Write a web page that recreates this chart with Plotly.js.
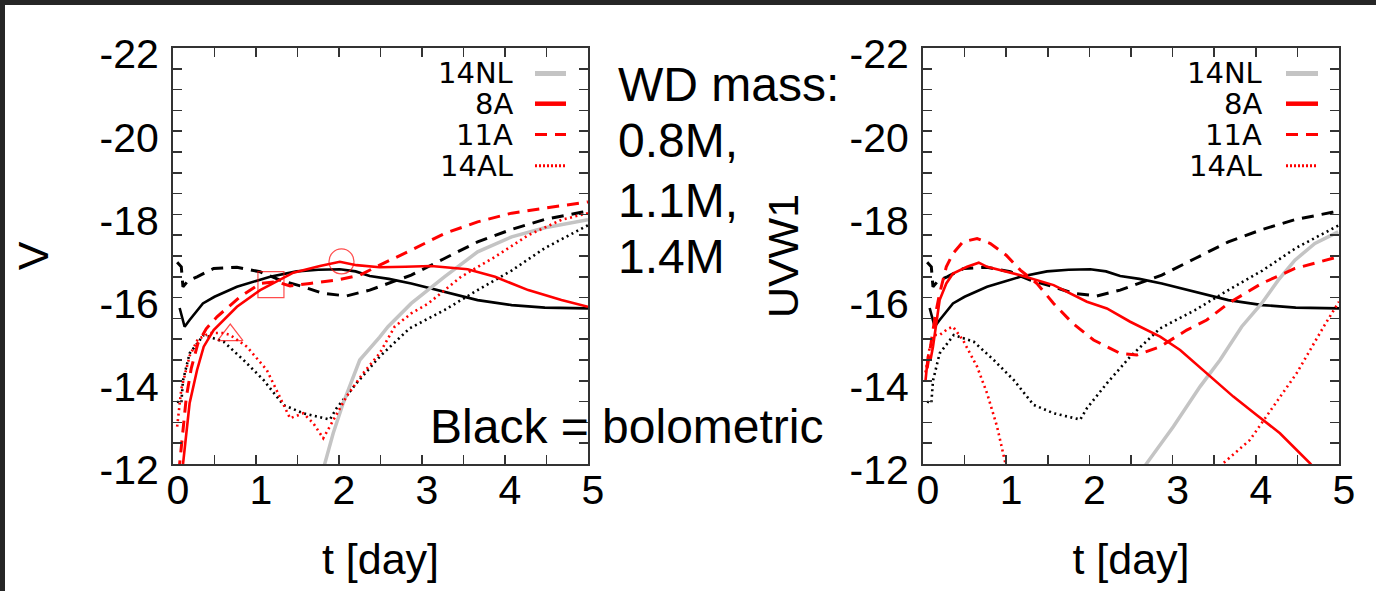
<!DOCTYPE html>
<html>
<head>
<meta charset="utf-8">
<script src="https://cdn.plot.ly/plotly-3.0.1.min.js"></script>
<style>html,body{margin:0;padding:0;background:#fff;}#chart{width:1376px;height:591px;}</style>
</head>
<body>
<div id="chart"></div>
<script>
// ---------- DATA (t in days, absolute magnitudes) ----------
// Bolometric (black) curves - identical in both panels
const bolSolidT = [0.08, 0.1, 0.14, 0.2, 0.36, 0.5, 0.77, 1.0, 1.17, 1.49, 1.75, 2.01, 2.2, 2.37, 2.6, 2.87, 3.27, 3.67, 4.08, 4.48, 5.0];
const bolSolidM = [-15.75, -15.62, -15.3, -15.46, -15.86, -16.02, -16.26, -16.4, -16.5, -16.63, -16.67, -16.68, -16.63, -16.52, -16.45, -16.34, -16.14, -15.94, -15.82, -15.76, -15.74];

const bolDashT = [0.05, 0.1, 0.12, 0.18, 0.29, 0.49, 0.77, 1.05, 1.29, 1.57, 1.81, 2.09, 2.37, 2.6, 2.87, 3.27, 3.67, 4.08, 4.48, 4.92, 5.0];
const bolDashM = [-16.85, -16.74, -16.26, -16.4, -16.5, -16.7, -16.73, -16.62, -16.42, -16.26, -16.1, -16.04, -16.18, -16.34, -16.54, -16.94, -17.34, -17.64, -17.88, -18.05, -18.08];

const bolDotT = [0.05, 0.1, 0.12, 0.2, 0.37, 0.61, 0.85, 1.09, 1.33, 1.57, 1.89, 1.97, 2.21, 2.49, 2.85, 3.27, 3.67, 4.08, 4.48, 5.0];
const bolDotM = [-13.5, -13.46, -14.0, -14.66, -15.1, -14.94, -14.5, -14.02, -13.42, -13.22, -13.07, -13.34, -13.94, -14.58, -15.26, -15.7, -16.18, -16.65, -17.19, -17.74];

// V band
const v14NLT = [1.8, 1.83, 1.93, 2.05, 2.25, 2.49, 2.59, 2.87, 3.27, 3.67, 4.08, 4.48, 5.0];
const v14NLM = [-11.8, -12.0, -12.74, -13.46, -14.5, -15.05, -15.3, -15.86, -16.5, -17.1, -17.46, -17.68, -17.87];

const v8AT = [0.11, 0.12, 0.165, 0.2, 0.29, 0.37, 0.49, 0.77, 1.05, 1.29, 1.45, 1.77, 2.01, 2.21, 2.49, 2.8, 3.11, 3.55, 3.88, 4.28, 4.68, 5.0];
const v8AM = [-11.8, -12.0, -12.82, -13.46, -14.26, -14.82, -15.22, -15.78, -16.18, -16.42, -16.6, -16.76, -16.86, -16.78, -16.73, -16.74, -16.76, -16.68, -16.5, -16.18, -15.94, -15.78];

const v11AT = [0.07, 0.08, 0.12, 0.16, 0.22, 0.3, 0.4, 0.53, 0.81, 1.05, 1.25, 1.41, 1.65, 1.97, 2.25, 2.49, 2.87, 3.27, 3.67, 4.08, 4.48, 4.96, 5.0];
const v11AM = [-11.8, -12.0, -12.9, -13.6, -14.3, -14.9, -15.25, -15.54, -16.02, -16.34, -16.38, -16.28, -16.34, -16.42, -16.54, -16.78, -17.14, -17.54, -17.82, -18.03, -18.15, -18.28, -18.3];

const v14ALT = [0.05, 0.1, 0.2, 0.3, 0.45, 0.6, 0.69, 0.89, 1.13, 1.29, 1.41, 1.57, 1.69, 1.81, 1.93, 2.09, 2.29, 2.49, 2.67, 2.87, 3.07, 3.47, 3.88, 4.28, 4.68, 5.0];
const v14ALM = [-12.9, -13.8, -14.6, -15.0, -15.15, -15.15, -15.1, -14.82, -14.26, -13.62, -13.1, -13.22, -12.98, -12.62, -13.06, -13.62, -14.18, -14.66, -15.3, -15.62, -15.85, -16.5, -16.98, -17.5, -17.87, -18.03];

// UVW1 band
const u14NLT = [2.65, 2.69, 3.01, 3.33, 3.57, 3.83, 4.07, 4.27, 4.47, 4.71, 4.99];
const u14NLM = [-11.9, -12.02, -12.9, -13.86, -14.5, -15.3, -15.86, -16.42, -16.9, -17.3, -17.58];

const u8AT = [0.03, 0.06, 0.09, 0.12, 0.2, 0.28, 0.36, 0.53, 0.67, 0.77, 1.17, 1.57, 1.97, 2.21, 2.49, 2.85, 3.09, 3.41, 3.73, 4.01, 4.29, 4.65, 4.7];
const u8AM = [-14.0, -14.6, -14.5, -14.82, -15.94, -16.34, -16.58, -16.74, -16.84, -16.74, -16.54, -16.3, -15.9, -15.74, -15.42, -15.06, -14.74, -14.18, -13.62, -13.18, -12.74, -12.02, -11.9];

const u11AT = [0.05, 0.1, 0.15, 0.2, 0.28, 0.36, 0.48, 0.65, 0.81, 1.0, 1.17, 1.37, 1.57, 1.8, 2.05, 2.25, 2.37, 2.57, 2.85, 3.17, 3.41, 3.67, 4.07, 4.47, 4.99];
const u11AM = [-14.3, -15.0, -15.6, -16.1, -16.74, -17.06, -17.34, -17.42, -17.3, -17.02, -16.66, -16.34, -15.86, -15.38, -14.98, -14.78, -14.66, -14.62, -14.82, -15.22, -15.46, -15.86, -16.34, -16.7, -16.98];

const u14ALT = [0.03, 0.08, 0.15, 0.2, 0.3, 0.36, 0.48, 0.65, 0.77, 0.89, 0.99, 1.02, null, 3.55, 3.61, 3.93, 4.21, 4.49, 4.83, 5.0];
const u14ALM = [-14.2, -14.8, -15.1, -15.1, -15.25, -15.3, -14.98, -14.34, -13.7, -12.9, -12.02, -11.8, null, -11.8, -12.02, -12.58, -13.38, -14.18, -15.35, -15.9];

// special points on the V curves
const markT = [1.18, 2.03, 0.69];
const markM = [-16.31, -16.87, -15.1];

// axis ticks
const xTickVals = [0, 0.5, 1, 1.5, 2, 2.5, 3, 3.5, 4, 4.5, 5];
const xTickText = ['0', '', '1', '', '2', '', '3', '', '4', '', '5'];
const yTickVals = [-22, -21.5, -21, -20.5, -20, -19.5, -19, -18.5, -18, -17.5, -17, -16.5, -16, -15.5, -15, -14.5, -14, -13.5, -13, -12.5, -12];
const yTickText = ['-22', '', '', '', '-20', '', '', '', '-18', '', '', '', '-16', '', '', '', '-14', '', '', '', '-12'];

const legendNames = ['14NL', '8A', '11A', '14AL'];
const textLines = ['WD mass:', '0.8M,', '1.1M,', '1.4M'];
const noteText = 'Black = bolometric';

// ---------- STYLE ----------
const RED = '#ff0000', BLACK = '#000000', GRAY = '#c4c4c4';
const DASH = '12px,8px', DOT = '2px,3.5px';
const W = 1376, H = 591;
const px = v => v / W, py = v => 1 - v / H;

function tr(x, y, color, dash, width, ax) {
  return {x: x, y: y, type: 'scatter', mode: 'lines', xaxis: 'x' + ax, yaxis: 'y' + ax,
    line: {color: color, dash: dash, width: width}, showlegend: false, hoverinfo: 'skip', connectgaps: false};
}

const traces = [];
['', '2'].forEach(ax => {
  traces.push(tr(bolSolidT, bolSolidM, BLACK, 'solid', 2.6, ax));
  traces.push(tr(bolDashT, bolDashM, BLACK, DASH, 3, ax));
  traces.push(tr(bolDotT, bolDotM, BLACK, DOT, 2.6, ax));
});
traces.push(tr(v14NLT, v14NLM, GRAY, 'solid', 3.5, ''));
traces.push(tr(v14ALT, v14ALM, RED, DOT, 2.6, ''));
traces.push(tr(v11AT, v11AM, RED, DASH, 3, ''));
traces.push(tr(v8AT, v8AM, RED, 'solid', 2.6, ''));
traces.push(tr(u14NLT, u14NLM, GRAY, 'solid', 3.5, '2'));
traces.push(tr(u14ALT, u14ALM, RED, DOT, 2.6, '2'));
traces.push(tr(u11AT, u11AM, RED, DASH, 3, '2'));
traces.push(tr(u8AT, u8AM, RED, 'solid', 2.6, '2'));
traces.push({x: markT, y: markM, type: 'scatter', mode: 'markers', xaxis: 'x', yaxis: 'y', showlegend: false, hoverinfo: 'skip',
  marker: {symbol: ['square-open', 'circle-open', 'triangle-up-open'], size: [26, 25, 22], color: RED, line: {color: RED, width: 1.2}}});

const FONT = 'Liberation Sans, Arial, sans-serif';
function xax(domain) {
  return {domain: domain, range: [0, 5], tickmode: 'array', tickvals: xTickVals, ticktext: xTickText,
    ticks: 'inside', ticklen: 9, tickwidth: 1.5, tickcolor: '#333', showline: true, linecolor: '#333', linewidth: 2,
    mirror: 'ticks', showgrid: false, zeroline: false, fixedrange: true,
    tickfont: {family: FONT, size: 41, color: '#000'}, ticklabelshift: 5, ticklabelstandoff: -11,
    title: {text: 't [day]', font: {family: FONT, size: 43, color: '#000'}, standoff: 32}};
}
function yax(domain, anchor, title) {
  return {domain: domain, anchor: anchor, range: [-12, -22], tickmode: 'array', tickvals: yTickVals, ticktext: yTickText,
    ticks: 'inside', ticklen: 9, tickwidth: 1.5, tickcolor: '#333', showline: true, linecolor: '#333', linewidth: 2,
    mirror: 'ticks', showgrid: false, zeroline: false, fixedrange: true,
    tickfont: {family: FONT, size: 41, color: '#000'}, ticklabelshift: -6, ticklabelstandoff: 4,
    title: {text: title, font: {family: FONT, size: 43, color: '#000'}, standoff: 37}};
}
const yDom = [1 - 464 / H, 1 - 48 / H];

const annotations = [];
const shapes = [];
const legRows = [73.5, 103.7, 134.6, 165.8];
const legStyles = [[GRAY, 'solid', 5], [RED, 'solid', 4.5], [RED, DASH, 3], [RED, '2px,2px', 3]];
[[514, 535, 566], [1263, 1286, 1318]].forEach(p => {
  legendNames.forEach((n, i) => {
    annotations.push({xref: 'paper', yref: 'paper', x: px(p[0]), y: py(legRows[i]), xanchor: 'right', yanchor: 'middle',
      text: n, showarrow: false, borderpad: 0, font: {family: 'DejaVu Sans, sans-serif', size: 29, color: '#000'}});
    shapes.push({type: 'line', xref: 'paper', yref: 'paper', x0: px(p[1]), x1: px(p[2]), y0: py(legRows[i]), y1: py(legRows[i]),
      line: {color: legStyles[i][0], dash: legStyles[i][1], width: legStyles[i][2]}});
  });
});
const lineY = [85, 141, 200, 256];
textLines.forEach((t, i) => {
  annotations.push({xref: 'paper', yref: 'paper', x: px(617), y: py(lineY[i]), xanchor: 'left', yanchor: 'middle',
    text: t, showarrow: false, borderpad: 0, font: {family: FONT, size: 48, color: '#000'}});
});
annotations.push({xref: 'paper', yref: 'paper', x: px(428), y: py(426), xanchor: 'left', yanchor: 'middle',
  text: noteText, showarrow: false, font: {family: FONT, size: 48, color: '#000'}});

// dark frame of the screenshot
shapes.push({type: 'rect', xref: 'paper', yref: 'paper', x0: 0, x1: 1, y0: py(5), y1: 1, fillcolor: '#262626', line: {width: 0}, layer: 'above'});
shapes.push({type: 'rect', xref: 'paper', yref: 'paper', x0: 0, x1: px(5), y0: 0, y1: 1, fillcolor: '#262626', line: {width: 0}, layer: 'above'});

const layout = {
  width: W, height: H, margin: {l: 0, r: 0, t: 0, b: 0}, paper_bgcolor: '#fff', plot_bgcolor: '#fff',
  showlegend: false,
  xaxis: xax([173 / W, 588 / W]), yaxis: yax(yDom, 'x', 'V'),
  xaxis2: Object.assign(xax([923 / W, 1339 / W]), {anchor: 'y2'}), yaxis2: yax(yDom, 'x2', 'UVW1'),
  annotations: annotations, shapes: shapes
};
layout.xaxis.anchor = 'y';
Plotly.newPlot('chart', traces, layout, {staticPlot: true, displayModeBar: false});
</script>
</body>
</html>
